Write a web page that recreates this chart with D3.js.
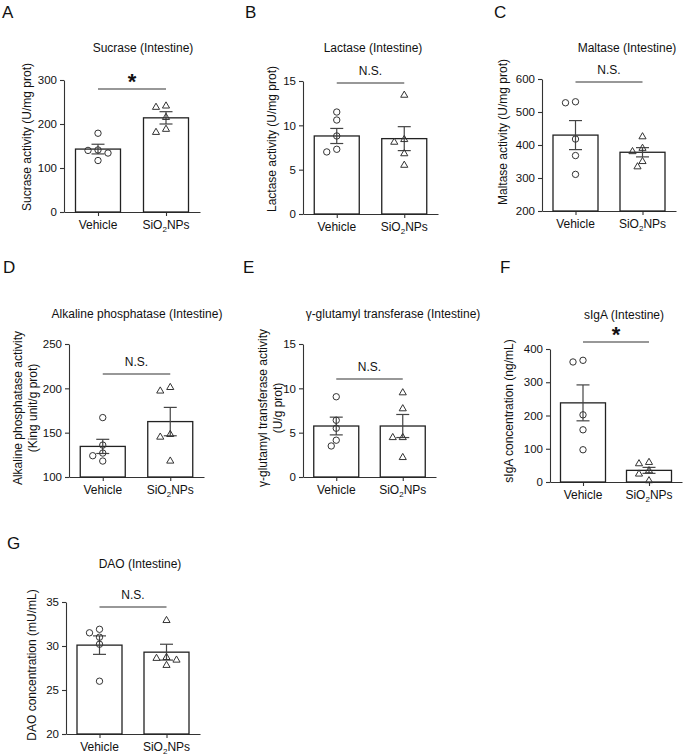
<!DOCTYPE html>
<html lang="en">
<head>
<meta charset="utf-8">
<title>Intestinal enzymes</title>
<script src="https://d3js.org/d3.v7.min.js"></script>
<style>
    body { margin: 0; background: #fff; }
    svg { display: block; }
    text { font-family: Arial, "Liberation Sans", sans-serif; fill: #111; }
    .tick text { font-size: 11.5px; }
    .axis path, .axis line { stroke: #333; stroke-width: 1.1; }
</style>
</head>
<body>
<script>

// ---- data ----
const groups = ["Vehicle", "SiO2NPs"];
const letters = ["A", "B", "C", "D", "E", "F", "G"];
const titles = [
    "Sucrase (Intestine)", "Lactase (Intestine)", "Maltase (Intestine)",
    "Alkaline phosphatase (Intestine)", "\u03b3-glutamyl transferase (Intestine)",
    "sIgA (Intestine)", "DAO (Intestine)"
];
const yLabels = [
    ["Sucrase activity (U/mg prot)"],
    ["Lactase activity (U/mg prot)"],
    ["Maltase activity (U/mg prot)"],
    ["Alkaline phosphatase activity", "(King unit/g prot)"],
    ["\u03b3-glutamyl transferase activity", "(U/g prot)"],
    ["sIgA concentration (ng/mL)"],
    ["DAO concentration (mU/mL)"]
];
const yDomains = [[0, 300], [0, 15], [200, 600], [100, 250], [0, 15], [0, 400], [20, 35]];
const yTicks = [
    [0, 100, 200, 300], [0, 5, 10, 15], [200, 300, 400, 500, 600],
    [100, 150, 200, 250], [0, 5, 10, 15], [0, 100, 200, 300, 400], [20, 25, 30, 35]
];
const means = [[143, 214], [8.8, 8.5], [430, 378], [134.5, 162.5], [5.75, 5.75], [238, 35], [30.1, 29.3]];
const sems = [[11, 14], [0.85, 1.35], [44, 14], [8, 16], [1.0, 1.3], [54, 9], [1.05, 0.9]];
const vehiclePts = [
    [179, 141, 140, 134, 117],
    [11.5, 10.6, 8.8, 7.0, 7.3],
    [531, 528, 418, 368, 311],
    [167, 136, 127, 124, 118],
    [9.05, 6.4, 5.5, 4.15, 3.5],
    [366, 361, 202, 157, 97],
    [31.5, 31.9, 31.0, 30.2, 26.0]
];
const sio2Pts = [
    [238, 241, 215, 181, 188],
    [13.4, 8.4, 8.1, 6.8, 5.5],
    [425, 390, 380, 350, 334],
    [197, 201, 148, 145, 118],
    [9.5, 7.7, 4.45, 4.45, 2.2],
    [59, 55, 34, 24, 4],
    [32.9, 28.7, 28.6, 28.4, 27.8]
];
const signif = ["*", "N.S.", "N.S.", "N.S.", "N.S.", "*", "N.S."];

// ---- layout of each panel (pixels) ----
let layout = [
    {x0: 64,  x1: 200, yTop: 80,  yBot: 212, lx: 2,   ly: 18,  tx: 143, ty: 52,  sigY: 89,  labX: [27],      labY: 137},
    {x0: 303, x1: 438, yTop: 81,  yBot: 214, lx: 245, ly: 18,  tx: 373, ty: 52,  sigY: 83,  labX: [272],     labY: 139},
    {x0: 542, x1: 676, yTop: 79,  yBot: 211, lx: 494, ly: 18,  tx: 627, ty: 52,  sigY: 82,  labX: [503],     labY: 132},
    {x0: 69,  x1: 204, yTop: 344, yBot: 477, lx: 3,   ly: 273, tx: 137, ty: 318, sigY: 374, labX: [18, 33],  labY: 408},
    {x0: 303, x1: 436, yTop: 344, yBot: 477, lx: 243, ly: 273, tx: 393, ty: 318, sigY: 379, labX: [263, 278], labY: 408},
    {x0: 550, x1: 682, yTop: 349, yBot: 482, lx: 500, ly: 273, tx: 624, ty: 319, sigY: 342, labX: [509],     labY: 411},
    {x0: 66,  x1: 200, yTop: 602, yBot: 734, lx: 7,   ly: 549, tx: 140, ty: 568, sigY: 607, labX: [32],      labY: 665}
];

let barW = 45, capW = 13, r = 3.2;

let svg = d3.select("body")
    .append("svg")
    .attr("width", 685)
    .attr("height", 756);

// spread points that would overlap, like a scatter dot plot
function dodge(vals, y, cx) {
    let placed = [];
    let order = vals.map((v, i) => i).sort((a, b) => vals[b] - vals[a]);
    let out = new Array(vals.length);
    let offs = [0, -5, 5, -10, 10, -15, 15];
    order.forEach(i => {
        let py = y(vals[i]);
        for (let o of offs) {
            let px = cx + o;
            let hit = placed.some(p => Math.hypot(p[0] - px, p[1] - py) < 2 * r + 0.5);
            if (!hit) { placed.push([px, py]); out[i] = [px, py]; break; }
        }
        if (!out[i]) out[i] = [cx, py];
    });
    return out;
}

function groupLabel(sel, name) {
    if (name === "SiO2NPs") {
        sel.append("tspan").text("SiO");
        sel.append("tspan").text("2").attr("dy", 3).style("font-size", "8px");
        sel.append("tspan").text("NPs").attr("dy", -3);
    } else {
        sel.text(name);
    }
}

function drawPanel(i) {
    let L = layout[i];
    let g = svg.append("g");

    let x = d3.scalePoint().domain(groups).range([L.x0, L.x1]).padding(0.5);
    let y = d3.scaleLinear().domain(yDomains[i]).range([L.yBot, L.yTop]);

    // panel letter + title
    g.append("text").attr("x", L.lx).attr("y", L.ly)
        .style("font-size", "17px").text(letters[i]);
    g.append("text").attr("x", L.tx).attr("y", L.ty)
        .attr("text-anchor", "middle").style("font-size", "12px").text(titles[i]);

    // axes
    g.append("g").attr("class", "axis")
        .attr("transform", "translate(" + L.x0 + ",0)")
        .call(d3.axisLeft(y).tickValues(yTicks[i]).tickSize(4).tickSizeOuter(0).tickPadding(3));
    g.append("g").attr("class", "axis")
        .attr("transform", "translate(0," + L.yBot + ")")
        .call(d3.axisBottom(x).tickSize(4).tickSizeOuter(0).tickFormat(""));

    g.selectAll("text.grp")
        .data(groups)
        .enter()
        .append("text")
        .attr("class", "grp")
        .attr("x", d => x(d))
        .attr("y", L.yBot + 17)
        .attr("text-anchor", "middle")
        .style("font-size", "12px")
        .each(function(d) { groupLabel(d3.select(this), d); });

    // y label
    let lab = g.append("g")
        .attr("transform", "translate(0," + L.labY + ")");
    yLabels[i].forEach((t, k) => {
        lab.append("text")
            .attr("transform", "translate(" + (L.labX[k] + 4) + ",0) rotate(-90)")
            .attr("text-anchor", "middle")
            .style("font-size", "12px")
            .text(t);
    });

    // bars
    g.selectAll("rect")
        .data(groups)
        .enter()
        .append("rect")
        .attr("x", d => x(d) - barW / 2)
        .attr("y", (d, k) => y(means[i][k]))
        .attr("width", barW)
        .attr("height", (d, k) => L.yBot - y(means[i][k]))
        .attr("fill", "#fff")
        .attr("stroke", "#222")
        .attr("stroke-width", 1.3);

    // error bars
    groups.forEach((gname, k) => {
        let cx = x(gname);
        let hi = y(means[i][k] + sems[i][k]), lo = y(means[i][k] - sems[i][k]);
        let eb = g.append("g").attr("stroke", "#444").attr("stroke-width", 1.2);
        eb.append("line").attr("x1", cx).attr("x2", cx).attr("y1", lo).attr("y2", hi);
        eb.append("line").attr("x1", cx - capW / 2).attr("x2", cx + capW / 2).attr("y1", hi).attr("y2", hi);
        eb.append("line").attr("x1", cx - capW / 2).attr("x2", cx + capW / 2).attr("y1", lo).attr("y2", lo);
    });

    // points
    let vp = dodge(vehiclePts[i], y, x(groups[0]));
    g.selectAll("circle")
        .data(vp)
        .enter()
        .append("circle")
        .attr("cx", d => d[0])
        .attr("cy", d => d[1])
        .attr("r", r)
        .attr("fill", "none")
        .attr("stroke", "#333")
        .attr("stroke-width", 1);

    let sp = dodge(sio2Pts[i], y, x(groups[1]));
    g.selectAll("path.tri")
        .data(sp)
        .enter()
        .append("path")
        .attr("class", "tri")
        .attr("d", d3.symbol().type(d3.symbolTriangle).size(22))
        .attr("transform", d => "translate(" + d[0] + "," + d[1] + ")")
        .attr("fill", "none")
        .attr("stroke", "#333")
        .attr("stroke-width", 1);

    // significance
    g.append("line")
        .attr("x1", x(groups[0])).attr("x2", x(groups[1]))
        .attr("y1", L.sigY).attr("y2", L.sigY)
        .attr("stroke", "#333").attr("stroke-width", 1.1);
    let mid = (x(groups[0]) + x(groups[1])) / 2;
    if (signif[i] === "*") {
        g.append("text").attr("x", mid).attr("y", L.sigY + 0)
            .attr("text-anchor", "middle")
            .style("font-size", "22px").style("font-weight", "bold")
            .text("*");
    } else {
        g.append("text").attr("x", mid).attr("y", L.sigY - 8)
            .attr("text-anchor", "middle")
            .style("font-size", "12px")
            .text(signif[i]);
    }
}

d3.range(letters.length).forEach(drawPanel);

</script>
</body>
</html>
